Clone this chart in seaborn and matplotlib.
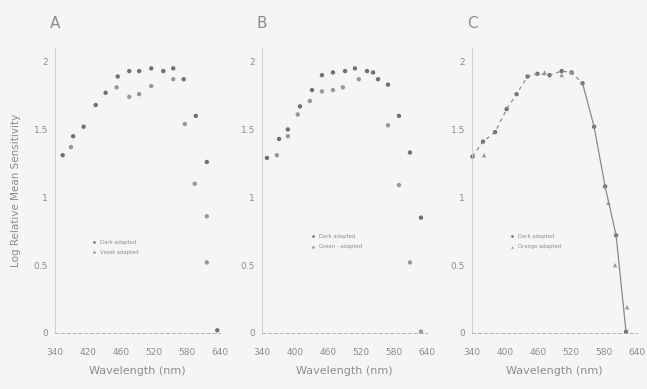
import numpy as np
import pandas as pd
import matplotlib
matplotlib.use("Agg")
import matplotlib.pyplot as plt
import seaborn as sns

sns.set_theme(style="white")
plt.rcParams['font.family'] = ['DejaVu Sans']

# ---------------- data ----------------
# Panel A
a_dark_wl = [354, 373, 392, 414, 432, 454, 475, 493, 515, 537, 555, 574, 596, 616, 635]
a_dark_val = [1.31, 1.45, 1.52, 1.68, 1.77, 1.89, 1.93, 1.93, 1.95, 1.93, 1.95, 1.87, 1.60, 1.26, 0.02]
a_adpt_wl = [369, 452, 475, 493, 515, 555, 576, 594, 616, 616]
a_adpt_val = [1.37, 1.81, 1.74, 1.76, 1.82, 1.87, 1.54, 1.10, 0.86, 0.52]
a_labels = ["Dark adapted", "Violet adapted"]

# Panel B
b_dark_wl = [349, 371, 387, 409, 431, 449, 469, 491, 509, 531, 542, 551, 569, 589, 609, 629]
b_dark_val = [1.29, 1.43, 1.50, 1.67, 1.79, 1.90, 1.92, 1.93, 1.95, 1.93, 1.92, 1.87, 1.83, 1.60, 1.33, 0.85]
b_adpt_wl = [367, 387, 405, 427, 449, 469, 487, 516, 569, 589, 609, 629]
b_adpt_val = [1.31, 1.45, 1.61, 1.71, 1.78, 1.79, 1.81, 1.87, 1.53, 1.09, 0.52, 0.01]
b_labels = ["Dark adapted", "Green - adapted"]

# Panel C
c_dark_wl = [341, 360, 382, 403, 421, 441, 459, 481, 503, 521, 541, 562, 582, 602, 620]
c_dark_val = [1.30, 1.41, 1.48, 1.65, 1.76, 1.89, 1.91, 1.90, 1.93, 1.92, 1.84, 1.52, 1.08, 0.72, 0.01]
c_adpt_wl = [362, 472, 503, 521, 588, 600, 622]
c_adpt_val = [1.31, 1.92, 1.90, 1.92, 0.96, 0.50, 0.19]
c_labels = ["Dark adapted", "Orange adapted"]

x_ticks = [340, 400, 460, 520, 580, 640]
x_ticklabels_a = ["340", "420", "460", "520", "580", "640"]
x_ticklabels_bc = ["340", "400", "460", "520", "580", "640"]
y_ticks = [0, 0.5, 1, 1.5, 2]
y_ticklabels = ["0", "0.5", "1", "1.5", "2"]
panel_letters = ["A", "B", "C"]

# ---------------- styling ----------------
bg = "#f7f5f4"
txt = "#8c8c8c"
pt = "#707070"

fig = plt.figure(figsize=(6.47, 3.89), dpi=100, facecolor=bg)

def make_df(dw, dv, aw, av, labels):
    d1 = pd.DataFrame({"wl": dw, "val": dv, "series": labels[0]})
    d2 = pd.DataFrame({"wl": aw, "val": av, "series": labels[1]})
    return pd.concat([d1, d2], ignore_index=True)

panels = [
    (a_dark_wl, a_dark_val, a_adpt_wl, a_adpt_val, a_labels, x_ticklabels_a, 55),
    (b_dark_wl, b_dark_val, b_adpt_wl, b_adpt_val, b_labels, x_ticklabels_bc, 262),
    (c_dark_wl, c_dark_val, c_adpt_wl, c_adpt_val, c_labels, x_ticklabels_bc, 472),
]
legend_pos = [(0.36, 0.30), (0.45, 0.32), (0.38, 0.32)]

W, H = 647, 389
for i, (dw, dv, aw, av, labels, xtl, left_px) in enumerate(panels):
    ax = fig.add_axes([left_px / W, 1 - 333 / H, 165 / W, (333 - 48) / H])
    ax.set_facecolor(bg)
    df = make_df(dw, dv, aw, av, labels)
    if i == 2:
        dark = df[df.series == labels[0]].copy()
        rise = dark[dark.wl <= 541]
        fall = dark[dark.wl >= 541]
        sns.lineplot(data=rise, x="wl", y="val", ax=ax, color="#8a8a8a",
                     lw=0.9, linestyle=(0, (3, 3)), legend=False)
        sns.lineplot(data=fall, x="wl", y="val", ax=ax, color="#8a8a8a",
                     lw=0.9, legend=False)
        markers = {labels[0]: "o", labels[1]: "^"}
    else:
        markers = {labels[0]: "o", labels[1]: "o"}
    sns.scatterplot(data=df, x="wl", y="val", hue="series", style="series",
                    markers=markers, palette={labels[0]: pt, labels[1]: "#979797"},
                    s=10, edgecolor="none", ax=ax, legend=True, clip_on=False)
    ax.set_xlim(340, 640)
    ax.set_ylim(0, 2.1)
    ax.set_xticks(x_ticks)
    ax.set_xticklabels(xtl)
    ax.set_yticks(y_ticks)
    ax.set_yticklabels(y_ticklabels)
    ax.tick_params(axis="both", colors="#9a9a9a", labelcolor=txt, labelsize=6.5,
                   direction="inout", length=4, width=0.6)
    ax.tick_params(axis="x", pad=9)
    ax.tick_params(axis="y", pad=3)
    for s in ["top", "right"]:
        ax.spines[s].set_visible(False)
    ax.spines["left"].set_color("#c8c8c8")
    ax.spines["left"].set_linewidth(0.6)
    ax.spines["bottom"].set_color("#a8a8a8")
    ax.spines["bottom"].set_linewidth(0.6)
    ax.spines["bottom"].set_linestyle((0, (4, 3)))
    ax.set_xlabel("Wavelength (nm)", color=txt, fontsize=8, labelpad=6)
    if i == 0:
        ax.set_ylabel("Log Relative Mean Sensitivity", color=txt, fontsize=7.5, labelpad=9)
    else:
        ax.set_ylabel("")
    leg = ax.legend(loc="center", bbox_to_anchor=legend_pos[i], frameon=False,
                    fontsize=3.8, labelcolor=txt, markerscale=0.6,
                    handlelength=1.2, handletextpad=0.5, labelspacing=1.0)
    ax.text(0.0, 1.06, panel_letters[i], transform=ax.transAxes, color=txt,
            fontsize=11, ha="center", va="bottom")

fig.savefig("out.png", dpi=100, facecolor=bg)
